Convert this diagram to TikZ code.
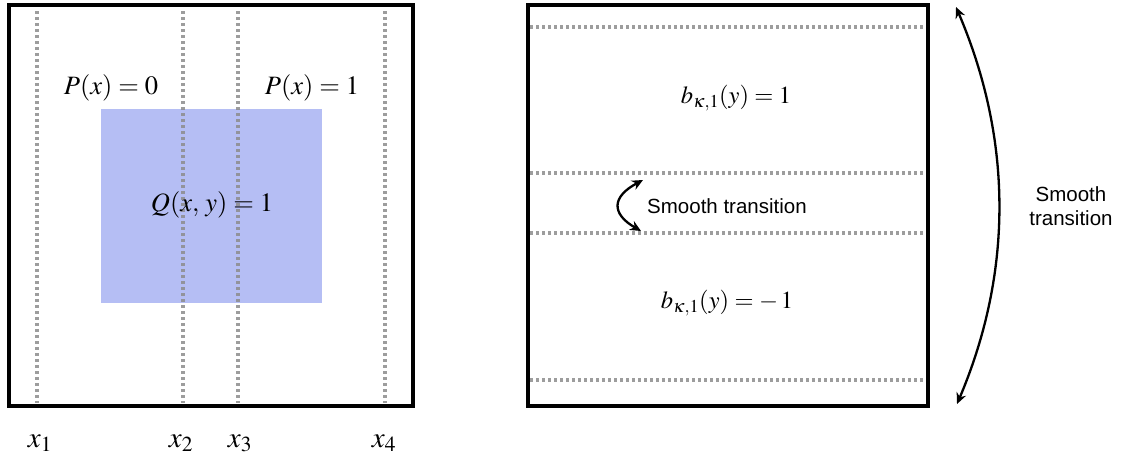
\documentclass[tikz,border=0pt]{standalone}
\usepackage{mathptmx}
\usepackage{fontspec}
\setsansfont{Liberation Sans}
\usetikzlibrary{arrows.meta}
\definecolor{dotgray}{RGB}{140,140,140}
\definecolor{qblue}{RGB}{181,190,244}
\begin{document}
\begin{tikzpicture}[x=1pt,y=-1pt,
  frame/.style={draw=black,line width=4pt},
  dotline/.style={draw=dotgray,line width=3.5pt,dash pattern=on 3pt off 3pt,draw opacity=0.85},
  mathlbl/.style={inner sep=0pt,font=\fontsize{26.5}{30}\selectfont},
  blbl/.style={inner sep=0pt,font=\fontsize{24.5}{28}\selectfont},
  xlbl/.style={inner sep=0pt,font=\fontsize{29}{32}\selectfont},
  sanslbl/.style={inner sep=0pt,font=\sffamily\fontsize{20.5}{25}\selectfont,align=center},
  curvearrow/.style={line width=2.3pt,{Stealth[length=11pt,width=10pt]}-{Stealth[length=11pt,width=10pt]}}]
\useasboundingbox (0,0) rectangle (1121,461);
% left panel
\fill[qblue] (101,109) rectangle (322,303);
\foreach \xx/\nm in {37/a,183/b,238/c,385/d}{
  \coordinate (t\nm) at (\xx,11);
  \coordinate (b\nm) at (\xx,403);
  \draw[dotline] (t\nm) -- (b\nm);
}
\node[frame,minimum width=404pt,minimum height=401pt,inner sep=0pt] (lbox) at (211,205.5) {};
\node[mathlbl] (p0) at (111,88) {$P(x)=0$};
\node[mathlbl] (p1) at (312,88) {$P(x)=1$};
\node[mathlbl] (q) at (212,205) {$Q(x,\,y)=1$};
\node[xlbl,anchor=base] (x1) at (40,447) {$x_1$};
\node[xlbl,anchor=base] (x2) at (181,447) {$x_2$};
\node[xlbl,anchor=base] (x3) at (240,447) {$x_3$};
\node[xlbl,anchor=base] (x4) at (384,447) {$x_4$};
% right panel
\foreach \yy/\nm in {27/e,173/f,233/g,380/h}{
  \coordinate (l\nm) at (530,\yy);
  \coordinate (r\nm) at (926,\yy);
  \draw[dotline] (l\nm) -- (r\nm);
}
\node[frame,minimum width=400pt,minimum height=401pt,inner sep=0pt] (rbox) at (728,205.5) {};
\node[blbl] (bp) at (736,98) {$b_{\kappa,1}(y)=1$};
\node[blbl] (bm) at (727,303) {$b_{\kappa,1}(y)=-\,1$};
\node[sanslbl,anchor=west] (st) at (647,206) {Smooth transition};
\coordinate (sa) at (643,180);
\coordinate (sb) at (641,231);
\draw[curvearrow] (sa) .. controls (611.7,196.7) and (611,213.7) .. (sb);
% big arrow
\coordinate (ba) at (956,7);
\coordinate (bb) at (957,404);
\draw[curvearrow] (ba) .. controls (1012.7,139.7) and (1013,272) .. (bb);
\node[sanslbl] (st2) at (1071,206) {Smooth\\[-1pt]transition};
\end{tikzpicture}
\end{document}
